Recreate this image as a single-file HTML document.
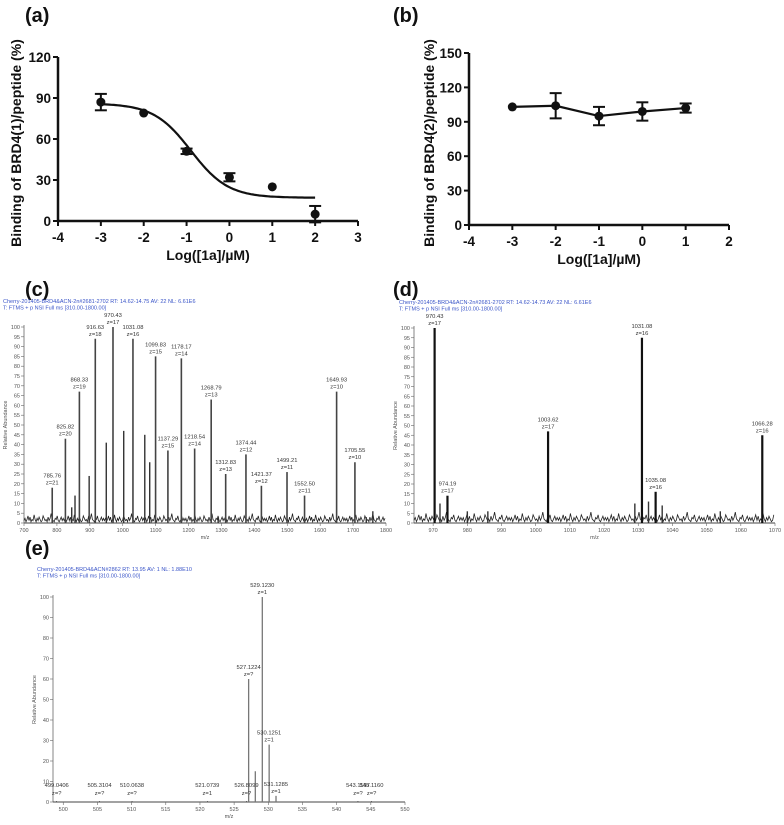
<!DOCTYPE html>
<html><head><meta charset="utf-8"><style>
html,body{margin:0;padding:0;background:#fff;}
svg{display:block;font-family:"Liberation Sans",Arial,sans-serif;}
</style></head><body>
<svg id="fig" width="784" height="825" viewBox="0 0 784 825" xmlns="http://www.w3.org/2000/svg">
<g id="g"></g>
</svg>
<script>
// Panel (a) data
const aX = [-3,-2,-1,0,1,2];
const aY = [87,79,51,32,25,5];
const aErr = [6,1,2,3,1,6];
const aFit = {bottom:17, top:86, logIC50:-0.9, hill:1.0};
const aXTicks = [-4,-3,-2,-1,0,1,2,3];
const aYTicks = [0,30,60,90,120];
// Panel (b) data
const bX = [-3,-2,-1,0,1];
const bY = [103,104,95,99,102];
const bErr = [1,11,8,8,4];
const bXTicks = [-4,-3,-2,-1,0,1,2];
const bYTicks = [0,30,60,90,120,150];
// Panel (c) data
const cMz = [785.76,825.82,868.33,916.63,970.43,1031.08,1099.83,1137.29,1178.17,1218.54,1268.79,1312.83,1374.44,1421.37,1499.21,1552.50,1649.93,1705.55];
const cInt = [18,43,67,94,100,94,85,37,84,38,63,25,35,19,26,14,67,31];
const cZ = [21,20,19,18,17,16,15,15,14,14,13,13,12,12,11,11,10,10];
const cMzMinor = [845,855,898,950,1003,1067,1082,1760,1740,1290];
const cIntMinor = [8,14,24,41,47,45,31,6,3,3];
// Panel (d) data
const dMz = [970.43,974.19,1003.62,1031.08,1035.08,1066.28];
const dInt = [100,14,47,95,16,45];
const dZ = [17,17,17,16,16,16];
const dMzMinor = [972,980,986,1029,1033,1037,1054];
const dIntMinor = [10,6,6,10,11,9,6];
// Panel (e) data
const eMz = [527.1224,528.1,529.1230,530.1251,531.1285];
const eInt = [60,15,100,28,3];
const eLab = ["527.1224","","529.1230","530.1251","531.1285"];
const eZLab = ["z=?","","z=1","z=1","z=1"];
const eBaseMz = [499.0406,505.3104,510.0638,521.0739,526.8099,543.1157,545.1160];
const eBaseZ = ["z=?","z=?","z=?","z=1","z=?","z=?","z=?"];
const noise = [2,4,1,3,6,2,5,1,3,2,7,3,1,4,2,5,3,1,2,6,4,2,3,1,5,2,4,8,3,2,1,4,3,6,2,1,3,5,2,4];

const NS="http://www.w3.org/2000/svg";
const G=document.getElementById('g');
function el(tag,attrs,parent,txt){const e=document.createElementNS(NS,tag);for(const k in attrs)e.setAttribute(k,attrs[k]);if(txt!==undefined)e.textContent=txt;(parent||G).appendChild(e);return e;}

function panelLabel(t,x,y){const e=el('text',{x:x,y:y,'font-size':20,'font-weight':'bold',fill:'#111'},G,t);

}

function doseChart(name,x0,x1,xmin,xmax,y0,y1,ymax,xt,yt,xs,ys,errs,ylabel,ylx,fit){
  const g=el('g',{});
  
  
  const sx=v=>x0+(v-xmin)/(xmax-xmin)*(x1-x0);
  const sy=v=>y0-(v/ymax)*(y0-y1);
  el('line',{x1:x0,y1:y0,x2:x0,y2:y1,stroke:'#111','stroke-width':2.5},g);
  el('line',{x1:x0,y1:y0,x2:x1,y2:y0,stroke:'#111','stroke-width':2.5},g);
  yt.forEach(v=>{el('line',{x1:x0-5,y1:sy(v),x2:x0,y2:sy(v),stroke:'#111','stroke-width':2},g);
    const t=el('text',{x:x0-7,y:sy(v)+5,'text-anchor':'end','font-size':13.5,'font-weight':'bold',fill:'#111'},g,v);
    });
  xt.forEach(v=>{el('line',{x1:sx(v),y1:y0,x2:sx(v),y2:y0+5,stroke:'#111','stroke-width':2},g);
    const t=el('text',{x:sx(v),y:y0+21,'text-anchor':'middle','font-size':13.5,'font-weight':'bold',fill:'#111'},g,v);
    });
  const xt2=el('text',{x:(x0+x1)/2,y:y0+39,'text-anchor':'middle','font-size':14,'font-weight':'bold',fill:'#111'},g,'Log([1a]/\u00b5M)');
  
  const yl=el('text',{x:ylx,y:(y0+y1)/2+4,'text-anchor':'middle','font-size':14,'font-weight':'bold',fill:'#111',transform:`rotate(-90 ${ylx} ${(y0+y1)/2+4})`},g,ylabel);
  
  if(fit){let d='';for(let i=0;i<=100;i++){const v=xs[0]+(xs[xs.length-1]-xs[0])*i/100;
      const y=fit.bottom+(fit.top-fit.bottom)/(1+Math.pow(10,(v-fit.logIC50)*fit.hill));d+=(i?'L':'M')+sx(v).toFixed(1)+' '+sy(y).toFixed(1);}
    const p=el('path',{d:d,fill:'none',stroke:'#111','stroke-width':2.2},g);}
  else{const p=el('polyline',{points:xs.map((v,i)=>sx(v)+','+sy(ys[i])).join(' '),fill:'none',stroke:'#111','stroke-width':2.2},g);
    }
  xs.forEach((v,i)=>{const cx=sx(v),cy=sy(ys[i]),e=errs[i];
    if(e>1.5){el('line',{x1:cx,y1:sy(ys[i]+e),x2:cx,y2:sy(ys[i]-e),stroke:'#111','stroke-width':2},g);
      [ys[i]+e,ys[i]-e].forEach(q=>el('line',{x1:cx-6,y1:sy(q),x2:cx+6,y2:sy(q),stroke:'#111','stroke-width':2},g));}
    const c=el('circle',{cx:cx,cy:cy,r:4.5,fill:'#111'},g);
    });
}

function spectrum(name,cfg){
  const {x0,x1,xmin,xmax,y0,y1,xTicks,hdr1,hdr2,hx,hy}=cfg;
  const g=el('g',{});
  
  
  const sx=v=>x0+(v-xmin)/(xmax-xmin)*(x1-x0);
  const sy=v=>y0-v/100*(y0-y1);
  const h1=el('text',{x:hx,y:hy,'font-size':5.5,fill:'#3a55c8'},g,hdr1);
  const h2=el('text',{x:hx,y:hy+6.5,'font-size':5.5,fill:'#3a55c8'},g,hdr2);
  el('line',{x1:x0,y1:y0,x2:x0,y2:y1-2,stroke:'#666','stroke-width':0.8},g);
  el('line',{x1:x0,y1:y0,x2:x1,y2:y0,stroke:'#444','stroke-width':1},g);
  for(let v=0;v<=100;v+=cfg.yStep){el('line',{x1:x0-3,y1:sy(v),x2:x0,y2:sy(v),stroke:'#666','stroke-width':0.6},g);
    const t=el('text',{x:x0-4,y:sy(v)+2,'text-anchor':'end','font-size':5.5,fill:'#555'},g,v);}
  xTicks.forEach(v=>{el('line',{x1:sx(v),y1:y0,x2:sx(v),y2:y0+3,stroke:'#666','stroke-width':0.6},g);
    const t=el('text',{x:sx(v),y:y0+9,'text-anchor':'middle','font-size':5.5,fill:'#555'},g,v);});
  const xl=el('text',{x:(x0+x1)/2,y:y0+16,'text-anchor':'middle','font-size':5.5,fill:'#555'},g,'m/z');
  const ym=(y0+y1)/2, yx=x0-17;
  const yl=el('text',{x:yx,y:ym,'text-anchor':'middle','font-size':5.5,fill:'#555',transform:`rotate(-90 ${yx} ${ym})`},g,'Relative Abundance');
  if(cfg.noise){let d='';const n=cfg.noiseN;for(let i=0;i<n;i++){const v=xmin+(xmax-xmin)*i/n;d+=(i?'L':'M')+sx(v).toFixed(1)+' '+sy(noise[i%noise.length]*cfg.noiseAmp).toFixed(1);}
    const p=el('path',{d:d,fill:'none',stroke:'#222','stroke-width':0.8},g);}
  (cfg.minorMz||[]).forEach((m,i)=>{const l=el('line',{x1:sx(m),y1:y0,x2:sx(m),y2:sy(cfg.minorInt[i]),stroke:'#333','stroke-width':1.4},g);});
  cfg.mz.forEach((m,i)=>{const x=sx(m),top=sy(cfg.int[i]);
    const l=el('line',{x1:x,y1:y0,x2:x,y2:top,stroke:cfg.peakColor,'stroke-width':cfg.peakW},g);
    if(cfg.labels[i]){const t=el('text',{x:x,y:top-10,'text-anchor':'middle','font-size':5.8,fill:'#333'},g,cfg.labels[i]);
      const z=el('text',{x:x,y:top-3,'text-anchor':'middle','font-size':5.8,fill:'#333'},g,cfg.zlabels[i]);}});
  (cfg.baseMz||[]).forEach((m,i)=>{const x=sx(m);
    const t=el('text',{x:x,y:y0-15,'text-anchor':'middle','font-size':5.8,fill:'#333'},g,m.toFixed(4));
    const z=el('text',{x:x,y:y0-7,'text-anchor':'middle','font-size':5.8,fill:'#333'},g,cfg.baseZ[i]);
    el('line',{x1:x,y1:y0,x2:x,y2:y0-1,stroke:'#333','stroke-width':0.6},g);});
}

panelLabel('(a)',25,22);
panelLabel('(b)',393,22);
panelLabel('(c)',25,296);
panelLabel('(d)',393,296);
panelLabel('(e)',25,555);

doseChart('dose-response-chart-a',58,358,-4,3,221,57,120,aXTicks,aYTicks,aX,aY,aErr,'Binding of BRD4(1)/peptide (%)',21,aFit);
doseChart('dose-response-chart-b',469,729,-4,2,225,53,150,bXTicks,bYTicks,bX,bY,bErr,'Binding of BRD4(2)/peptide (%)',434,null);

spectrum('mass-spectrum-c',{x0:24,x1:386,xmin:700,xmax:1800,y0:523,y1:327,yStep:5,xTicks:[700,800,900,1000,1100,1200,1300,1400,1500,1600,1700,1800],
  hdr1:'Cherry-201405-BRD4&ACN-2n#2681-2702  RT: 14.62-14.75  AV: 22  NL: 6.61E6',hdr2:'T: FTMS + p NSI Full ms [310.00-1800.00]',hx:3,hy:303,
  mz:cMz,int:cInt,labels:cMz.map(v=>v.toFixed(2)),zlabels:cZ.map(z=>'z='+z),minorMz:cMzMinor,minorInt:cIntMinor,peakColor:'#444',peakW:1.6,noise:true,noiseN:360,noiseAmp:0.6});
spectrum('mass-spectrum-d',{x0:414,x1:775,xmin:964.4,xmax:1070,y0:523,y1:328,yStep:5,xTicks:[970,980,990,1000,1010,1020,1030,1040,1050,1060,1070],
  hdr1:'Cherry-201405-BRD4&ACN-2n#2681-2702  RT: 14.62-14.73  AV: 22  NL: 6.61E6',hdr2:'T: FTMS + p NSI Full ms [310.00-1800.00]',hx:399,hy:304,
  mz:dMz,int:dInt,labels:dMz.map(v=>v.toFixed(2)),zlabels:dZ.map(z=>'z='+z),minorMz:dMzMinor,minorInt:dIntMinor,peakColor:'#111',peakW:2.2,noise:true,noiseN:300,noiseAmp:0.7});
spectrum('mass-spectrum-e',{x0:53,x1:405,xmin:498.5,xmax:550,y0:802,y1:597,yStep:10,xTicks:[500,505,510,515,520,525,530,535,540,545,550],
  hdr1:'Cherry-201405-BRD4&ACN#2862  RT: 13.95  AV: 1  NL: 1.88E10',hdr2:'T: FTMS + p NSI Full ms [310.00-1800.00]',hx:37,hy:571,
  mz:eMz,int:eInt,labels:eLab,zlabels:eZLab,baseMz:eBaseMz,baseZ:eBaseZ,peakColor:'#777',peakW:1.3,noise:false});
</script>
</body></html>
